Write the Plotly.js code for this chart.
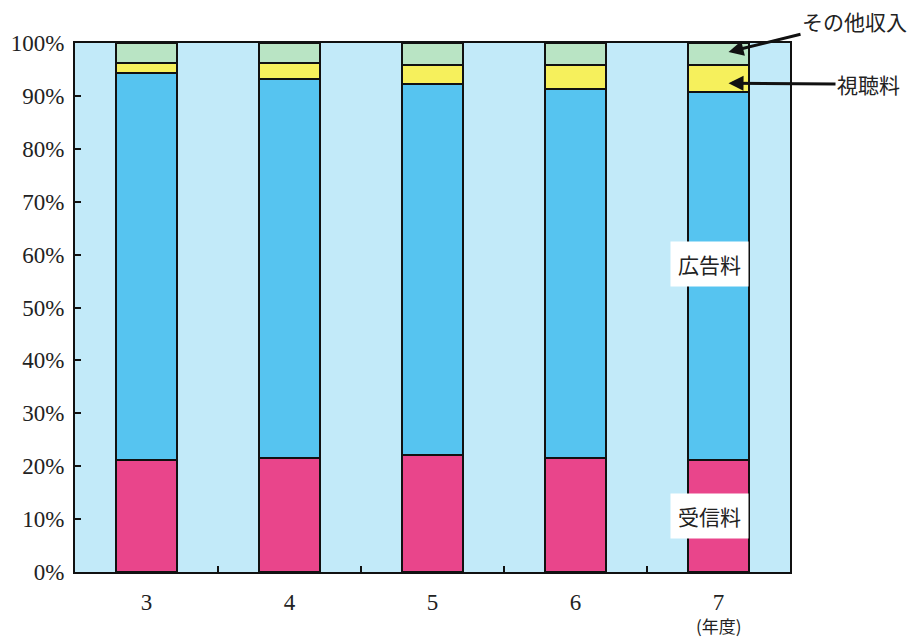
<!DOCTYPE html>
<html>
<head>
<meta charset="utf-8">
<script src="https://cdn.plot.ly/plotly-3.0.1.min.js"></script>
<style>html,body{margin:0;padding:0;background:#fff;}#chart{width:914px;height:637px;}</style>
</head>
<body>
<div id="chart"></div>
<script>
const years = ['3', '4', '5', '6', '7'];
const jushinryo = [21.2, 21.5, 22.1, 21.5, 21.2];   // 受信料
const kokokuryo = [73.1, 71.7, 70.1, 69.8, 69.5];   // 広告料
const shichoryo = [1.9, 3.0, 3.6, 4.5, 5.1];        // 視聴料
const sonota = [3.8, 3.8, 4.2, 4.2, 4.2];           // その他収入
const yTicks = [0, 10, 20, 30, 40, 50, 60, 70, 80, 90, 100];

const line = {color: '#111', width: 2};
const w = 0.42;
const traces = [
  {type: 'bar', x: years, y: jushinryo, name: '受信料', width: w, marker: {color: '#e9458b', line: line}},
  {type: 'bar', x: years, y: kokokuryo, name: '広告料', width: w, marker: {color: '#56c4f0', line: line}},
  {type: 'bar', x: years, y: shichoryo, name: '視聴料', width: w, marker: {color: '#f6f05c', line: line}},
  {type: 'bar', x: years, y: sonota, name: 'その他収入', width: w, marker: {color: '#b9e4c4', line: line}}
];

const jp = '"Noto Sans CJK JP", sans-serif';
const serif = '"Liberation Serif", "DejaVu Serif", serif';

const layout = {
  width: 914, height: 637,
  margin: {l: 75, r: 124, t: 43, b: 65},
  barmode: 'stack',
  showlegend: false,
  paper_bgcolor: '#ffffff',
  plot_bgcolor: '#c2eaf9',
  font: {family: serif, color: '#222', size: 23},
  xaxis: {
    type: 'category', range: [-0.5, 4.5],
    showline: true, linecolor: '#111', linewidth: 2, mirror: true,
    ticks: 'inside', tickson: 'boundaries', ticklen: 6, tickcolor: '#111', tickwidth: 2,
    ticklabelstandoff: 8,
    showgrid: false, zeroline: false,
    tickfont: {family: serif, size: 23, color: '#222'}
  },
  yaxis: {
    range: [0, 100], tickvals: yTicks, ticktext: yTicks.map(v => v + '%'),
    showline: true, linecolor: '#111', linewidth: 2, mirror: true,
    ticks: 'inside', ticklen: 6, tickcolor: '#111', tickwidth: 2,
    ticklabelstandoff: 4,
    showgrid: false, zeroline: false,
    tickfont: {family: serif, size: 23, color: '#222'}
  },
  annotations: [
    {x: 4.07, y: 98.3, xref: 'x', yref: 'y', text: 'その他収入', showarrow: true,
     ax: 126, ay: -31, arrowhead: 2, arrowsize: 1, arrowwidth: 3, arrowcolor: '#111',
     font: {family: jp, size: 21, color: '#222'}},
    {x: 4.07, y: 92.4, xref: 'x', yref: 'y', text: '視聴料', showarrow: true,
     ax: 140, ay: 1, arrowhead: 2, arrowsize: 1, arrowwidth: 3, arrowcolor: '#111',
     font: {family: jp, size: 21, color: '#222'}},
    {x: 3.94, y: 58.2, xref: 'x', yref: 'y', text: '広告料', showarrow: false,
     bgcolor: '#ffffff', borderpad: 7, font: {family: jp, size: 21, color: '#222'}},
    {x: 3.94, y: 10.6, xref: 'x', yref: 'y', text: '受信料', showarrow: false,
     bgcolor: '#ffffff', borderpad: 7, font: {family: jp, size: 21, color: '#222'}},
    {x: 4, y: -0.102, xref: 'x', yref: 'paper', yanchor: 'middle', text: '(年度)', showarrow: false,
     font: {family: jp, size: 17, color: '#222'}}
  ]
};

Plotly.newPlot('chart', traces, layout, {displayModeBar: false, staticPlot: true});
</script>
</body>
</html>
